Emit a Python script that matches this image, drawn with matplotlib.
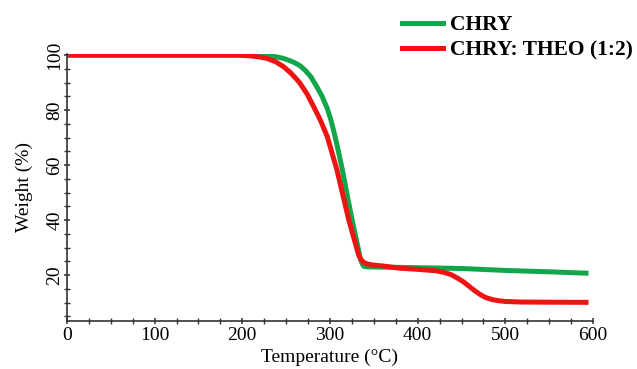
import matplotlib.pyplot as plt
from matplotlib.ticker import MultipleLocator

# TGA curves
temp_chry = [0, 100, 200, 220, 228, 240, 247, 255, 260, 266, 272, 278, 285, 291,
             297, 301, 305, 310, 314, 320, 325, 330, 335, 337, 338.5, 342, 360,
             400, 450, 500, 550, 592]
weight_chry = [100, 100, 100, 99.9, 99.8, 99.3, 98.8, 97.9, 97.2, 96.1, 94.4, 92.2,
               88.5, 85, 80.5, 76.5, 71.5, 64.5, 58.5, 48.5, 40.5, 33, 25.5, 24,
               23.2, 23, 22.9, 22.7, 22.4, 21.7, 21.2, 20.7]

temp_mix = [0, 100, 195, 210, 220, 228, 238, 247, 255, 262, 266, 274, 281.5, 289,
            297, 308, 321.5, 333, 336, 338.6, 342, 348, 358, 380, 400, 420, 430,
            438, 445, 452, 460, 466, 472, 478, 485, 492, 500, 520, 550, 592]
weight_mix = [100, 100, 100, 99.7, 99.3, 98.8, 97.6, 95.8, 93.6, 91.2, 89.7, 85.8,
              81.2, 76.4, 70.3, 58.2, 40, 27, 25.4, 24.6, 24.1, 23.7, 23.4, 22.5,
              22.1, 21.6, 21.0, 20.2, 19, 17.6, 15.6, 14.1, 12.8, 11.8, 11.1, 10.7,
              10.4, 10.2, 10.15, 10.1]

labels = ["CHRY", "CHRY: THEO (1:2)"]
colors = ["#12a64a", "#ee1414"]

plt.rcParams["font.family"] = ["Liberation Serif", "DejaVu Serif"]

fig = plt.figure(figsize=(6.37, 3.69), dpi=100)
ax = fig.add_axes([0.105, 0.130, 0.826, 0.7244])

ax.plot(temp_chry, weight_chry, color=colors[0], lw=3.6, label=labels[0],
        solid_joinstyle="round")
ax.plot(temp_mix, weight_mix, color=colors[1], lw=3.6, label=labels[1],
        solid_joinstyle="round")

ax.set_xlim(0, 600)
ax.set_ylim(3.3, 100.5)
ax.xaxis.set_major_locator(MultipleLocator(100))
ax.xaxis.set_minor_locator(MultipleLocator(25))
ax.yaxis.set_major_locator(MultipleLocator(20))
ax.yaxis.set_minor_locator(MultipleLocator(5))

for s in ["top", "right"]:
    ax.spines[s].set_visible(False)
for s in ["left", "bottom"]:
    ax.spines[s].set_color("#333333")
    ax.spines[s].set_linewidth(1.2)

ax.tick_params(axis="both", which="major", labelsize=14, color="#333333",
               length=5, width=1.1, direction="inout")
ax.tick_params(axis="both", which="minor", color="#333333", length=4,
               width=1.0, direction="inout")
ax.tick_params(axis="x", pad=2)
ax.tick_params(axis="y", pad=0)
for lab in ax.get_yticklabels():
    lab.set_rotation(90)
    lab.set_va("center")

ax.set_xlabel("Temperature (°C)", fontsize=14, labelpad=3)
ax.set_ylabel("Weight (%)", fontsize=14, labelpad=10)

leg = ax.legend(loc="upper right", bbox_to_anchor=(0.997, 0.965),
                bbox_transform=fig.transFigure, frameon=False,
                prop={"weight": "bold", "size": 15.5}, handlelength=1.9,
                handletextpad=0.35, labelspacing=0.25, borderpad=0.1,
                borderaxespad=0)

fig.savefig("out.png", dpi=100)
